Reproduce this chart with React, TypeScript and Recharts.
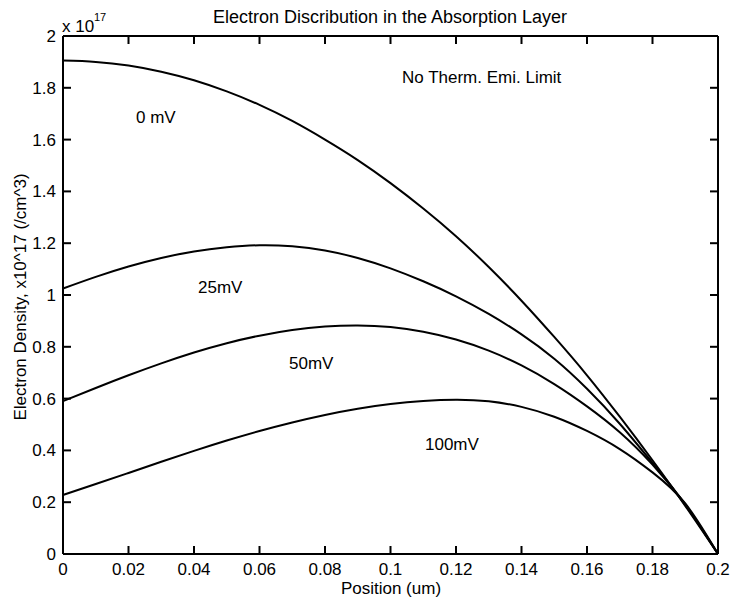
import { LineChart, Line, XAxis, YAxis, ReferenceLine } from "recharts";

// position across the absorption layer (um)
const position = [
  0, 0.01, 0.02, 0.03, 0.04, 0.05, 0.06, 0.07, 0.08, 0.09, 0.1,
  0.11, 0.12, 0.13, 0.14, 0.15, 0.16, 0.17, 0.18, 0.19, 0.2,
];

// electron density, x10^17 /cm^3
const bias0 = [
  1.905, 1.9, 1.886, 1.862, 1.829, 1.786, 1.734, 1.672, 1.6, 1.521, 1.432,
  1.334, 1.227, 1.108, 0.978, 0.838, 0.69, 0.53, 0.362, 0.186, 0,
];
const bias25 = [
  1.025, 1.07, 1.11, 1.143, 1.168, 1.184, 1.192, 1.188, 1.172, 1.143, 1.103,
  1.053, 0.995, 0.927, 0.848, 0.754, 0.638, 0.503, 0.352, 0.192, 0,
];
const bias50 = [
  0.59, 0.641, 0.69, 0.736, 0.778, 0.814, 0.843, 0.865, 0.878, 0.882, 0.876,
  0.858, 0.828, 0.785, 0.728, 0.656, 0.57, 0.47, 0.345, 0.19, 0,
];
const bias100 = [
  0.228, 0.27, 0.313, 0.356, 0.398, 0.438, 0.475, 0.508, 0.537, 0.561, 0.579,
  0.591, 0.596, 0.59, 0.568, 0.53, 0.475, 0.405, 0.315, 0.195, 0,
];

const xTicks = [0, 0.02, 0.04, 0.06, 0.08, 0.1, 0.12, 0.14, 0.16, 0.18, 0.2];
const yTicks = [0, 0.2, 0.4, 0.6, 0.8, 1, 1.2, 1.4, 1.6, 1.8, 2];

const rows = position.map((x, i) => ({
  x,
  b0: bias0[i],
  b25: bias25[i],
  b50: bias50[i],
  b100: bias100[i],
}));

const W = 731;
const H = 602;
const M = { top: 36, right: 13, bottom: 0, left: 0 };
const X_AXIS_H = 48;
const Y_AXIS_W = 63;
// inner plot box, used to mirror the ticks onto the top and right edges
const PLOT_W = W - M.left - M.right - Y_AXIS_W;
const PLOT_H = H - M.top - M.bottom - X_AXIS_H;

const FONT = "'Liberation Sans', Arial, Helvetica, sans-serif";
const TICK = 8;

const fmt = (v: number) => String(Number(v.toFixed(2)));

// matlab-style ticks: short bars pointing into the plot on both edges
const BottomTick = (p: any) => (
  <g>
    <rect x={p.x - 1} y={p.y - TICK} width={2} height={TICK} fill="#000" />
    <rect x={p.x - 1} y={p.y - PLOT_H} width={2} height={TICK} fill="#000" />
    <text x={p.x} y={p.y + 21} textAnchor="middle" fontSize={17} fontFamily={FONT} fill="#000">
      {fmt(p.payload.value)}
    </text>
  </g>
);
const LeftTick = (p: any) => (
  <g>
    <rect x={p.x} y={p.y - 1} width={TICK} height={2} fill="#000" />
    <rect x={p.x + PLOT_W - TICK} y={p.y - 1} width={TICK} height={2} fill="#000" />
    <text x={p.x - 7} y={p.y + 6} textAnchor="end" fontSize={17} fontFamily={FONT} fill="#000">
      {fmt(p.payload.value)}
    </text>
  </g>
);

const axisLineStyle = { stroke: "#000", strokeWidth: 2 };
const labelStyle = { fontSize: 17, fontFamily: FONT, fill: "#000" };

export default function App() {
  return (
    <div style={{ position: "absolute", left: 0, top: 0, width: W, height: H, background: "#fff" }}>
      <LineChart width={W} height={H} data={rows} margin={M}>
        <XAxis
          dataKey="x"
          type="number"
          domain={[0, 0.2]}
          ticks={xTicks}
          height={X_AXIS_H}
          tickSize={0}
          tickMargin={0}
          tickLine={false}
          axisLine={axisLineStyle}
          tick={BottomTick}
          interval={0}
        />
        <YAxis
          type="number"
          domain={[0, 2]}
          ticks={yTicks}
          width={Y_AXIS_W}
          tickSize={0}
          tickMargin={0}
          tickLine={false}
          axisLine={axisLineStyle}
          tick={LeftTick}
          interval={0}
        />
        {/* top and right edges of the box */}
        <ReferenceLine y={2} stroke="#000" strokeWidth={2} ifOverflow="visible" />
        <ReferenceLine x={0.2} stroke="#000" strokeWidth={2} ifOverflow="visible" />
        <Line dataKey="b0" type="natural" stroke="#000" strokeWidth={2} dot={false} isAnimationActive={false} />
        <Line dataKey="b25" type="natural" stroke="#000" strokeWidth={2} dot={false} isAnimationActive={false} />
        <Line dataKey="b50" type="natural" stroke="#000" strokeWidth={2} dot={false} isAnimationActive={false} />
        <Line dataKey="b100" type="natural" stroke="#000" strokeWidth={2} dot={false} isAnimationActive={false} />
      </LineChart>

      <svg
        width={W}
        height={H}
        style={{ position: "absolute", left: 0, top: 0, pointerEvents: "none" }}
      >
        <text x={390} y={23} textAnchor="middle" {...labelStyle} fontSize={18}>
          Electron Discribution in the Absorption Layer
        </text>
        <text x={62} y={32} {...labelStyle}>x 10</text>
        <text x={94} y={21} {...labelStyle} fontSize={11}>17</text>
        <text x={391} y={594} textAnchor="middle" {...labelStyle}>Position (um)</text>
        <text transform="translate(26,297) rotate(-90)" textAnchor="middle" {...labelStyle}>
          Electron Density, x10^17 (/cm^3)
        </text>
        <text x={402} y={83} {...labelStyle}>No Therm. Emi. Limit</text>
        <text x={136} y={123} {...labelStyle}>0 mV</text>
        <text x={198} y={293} {...labelStyle}>25mV</text>
        <text x={289} y={369} {...labelStyle}>50mV</text>
        <text x={425} y={450} {...labelStyle}>100mV</text>
      </svg>
    </div>
  );
}
